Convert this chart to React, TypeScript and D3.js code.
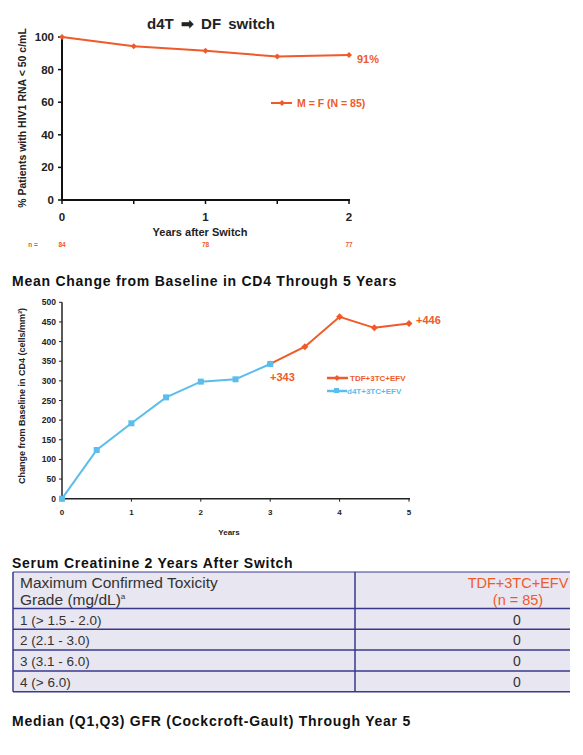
import React from "react";
import * as d3 from "d3";

// ---------- Data ----------
const vlYears = [0, 0.5, 1, 1.5, 2];
const vlPct = [100, 94.3, 91.6, 88, 89];
const vlTickYears = [0, 1, 2];
const vlNYears = [0, 1, 2];
const vlN = ["84", "78", "77"];
const vlYTicks = [0, 20, 40, 60, 80, 100];

const cd4BlueYears = [0, 0.5, 1, 1.5, 2, 2.5, 3];
const cd4BlueVals = [0, 124, 192, 258, 298, 304, 343];
const cd4OrangeYears = [3, 3.5, 4, 4.5, 5];
const cd4OrangeVals = [343, 387, 463, 435, 446];
const cd4YTicks = [0, 50, 100, 150, 200, 250, 300, 350, 400, 450, 500];
const cd4XTicks = [0, 1, 2, 3, 4, 5];

const tableHeaderLeft = ["Maximum Confirmed Toxicity", "Grade (mg/dL)"];
const tableHeaderRight = ["TDF+3TC+EFV", "(n = 85)"];
const gradeLabels = ["1 (> 1.5 - 2.0)", "2 (2.1 - 3.0)", "3 (3.1 - 6.0)", "4 (> 6.0)"];
const gradeValues = ["0", "0", "0", "0"];

const ORANGE = "#f05a28";
const BLUE = "#5bbdec";
const FONT = "'Liberation Sans', Arial, Helvetica, sans-serif";

function diamond(x: number, y: number, r: number) {
  return `M${x},${y - r}L${x + r},${y}L${x},${y + r}L${x - r},${y}Z`;
}

export default function App() {
  // Chart 1 scales
  const x1 = d3.scaleLinear().domain([0, 2]).range([62, 349]);
  const y1 = d3.scaleLinear().domain([0, 100]).range([200, 37]);
  const line1 = d3
    .line<number>()
    .x((_, i) => x1(vlYears[i]))
    .y((d) => y1(d));

  // Chart 2 scales
  const x2 = d3.scaleLinear().domain([0, 5]).range([62, 409]);
  const y2 = d3.scaleLinear().domain([0, 500]).range([498.7, 302.3]);
  const lineBlue = d3
    .line<number>()
    .x((_, i) => x2(cd4BlueYears[i]))
    .y((d) => y2(d));
  const lineOrange = d3
    .line<number>()
    .x((_, i) => x2(cd4OrangeYears[i]))
    .y((d) => y2(d));

  // Table geometry
  const tLeft = 13;
  const tRight = 570;
  const tDiv = 355;
  const tTop = 572;
  const headerBottom = 608.5;
  const rowH = 20.8;
  const rowYs = gradeLabels.map((_, i) => headerBottom + i * rowH);
  const tBottom = headerBottom + gradeLabels.length * rowH;
  const BORDER = "#3a3a8c";

  return (
    <svg width={583} height={755} style={{ position: "absolute", left: 0, top: 0 }} fontFamily={FONT}>
      <rect x={0} y={0} width={583} height={755} fill="#fff" />

      {/* ---------- Chart 1 ---------- */}
      <text x={211} y={29} textAnchor="middle" fontSize={15} fontWeight="bold" fill="#222" wordSpacing={3}>
        d4T ➡ DF switch
      </text>
      <text
        transform={`translate(26,${118}) rotate(-90)`}
        textAnchor="middle"
        fontSize={10.5}
        fontWeight="bold"
        fill="#222"
      >
        % Patients with HIV1 RNA &lt; 50 c/mL
      </text>
      <line x1={62} x2={62} y1={y1(100)} y2={y1(0)} stroke="#111" strokeWidth={2} />
      <line x1={61} x2={350} y1={y1(0)} y2={y1(0)} stroke="#111" strokeWidth={2} />
      {vlYTicks.map((t) => (
        <g key={t}>
          <line x1={58} x2={62} y1={y1(t)} y2={y1(t)} stroke="#111" strokeWidth={1.5} />
          <text x={54} y={y1(t) + 4} textAnchor="end" fontSize={11.5} fontWeight="bold" fill="#222">
            {t}
          </text>
        </g>
      ))}
      {vlYears.map((t) => (
        <line key={t} x1={x1(t)} x2={x1(t)} y1={y1(0)} y2={y1(0) + 4} stroke="#111" strokeWidth={1.5} />
      ))}
      {vlTickYears.map((t) => (
        <text key={t} x={x1(t)} y={221} textAnchor="middle" fontSize={11.5} fontWeight="bold" fill="#222">
          {t}
        </text>
      ))}
      <text x={200} y={236} textAnchor="middle" fontSize={11} fontWeight="bold" fill="#222">
        Years after Switch
      </text>
      <text x={33} y={247} textAnchor="middle" fontSize={6.5} fontWeight="bold" fill={ORANGE}>
        n =
      </text>
      {vlNYears.map((t, i) => (
        <text key={t} x={x1(t)} y={247} textAnchor="middle" fontSize={6.5} fontWeight="bold" fill={ORANGE}>
          {vlN[i]}
        </text>
      ))}
      <path d={line1(vlPct) || ""} fill="none" stroke={ORANGE} strokeWidth={2} />
      {vlPct.map((v, i) => (
        <path key={i} d={diamond(x1(vlYears[i]), y1(v), 3)} fill={ORANGE} />
      ))}
      <text x={357} y={63} fontSize={11} fontWeight="bold" fill={ORANGE}>
        91%
      </text>
      <line x1={271} x2={292} y1={103} y2={103} stroke={ORANGE} strokeWidth={2} />
      <path d={diamond(282, 103, 3)} fill={ORANGE} />
      <text x={297} y={107} fontSize={10.5} fontWeight="bold" fill={ORANGE}>
        M = F (N = 85)
      </text>

      {/* ---------- Chart 2 ---------- */}
      <text x={12} y={286} fontSize={14} fontWeight="bold" fill="#111" letterSpacing={0.75}>
        Mean Change from Baseline in CD4 Through 5 Years
      </text>
      <text
        transform={`translate(25,${396}) rotate(-90)`}
        textAnchor="middle"
        fontSize={9}
        fontWeight="bold"
        fill="#222"
      >
        Change from Baseline in CD4 (cells/mm³)
      </text>
      <line x1={62} x2={62} y1={y2(500)} y2={y2(0)} stroke="#222" strokeWidth={1.5} />
      <line x1={61} x2={410} y1={y2(0)} y2={y2(0)} stroke="#222" strokeWidth={1.5} />
      {cd4YTicks.map((t) => (
        <g key={t}>
          <line x1={59} x2={62} y1={y2(t)} y2={y2(t)} stroke="#222" strokeWidth={1} />
          <text x={56} y={y2(t) + 3} textAnchor="end" fontSize={8.5} fontWeight="bold" fill="#222">
            {t}
          </text>
        </g>
      ))}
      {cd4XTicks.map((t) => (
        <g key={t}>
          <line x1={x2(t)} x2={x2(t)} y1={y2(0)} y2={y2(0) + 3} stroke="#222" strokeWidth={1} />
          <text x={x2(t)} y={515} textAnchor="middle" fontSize={8} fontWeight="bold" fill="#222">
            {t}
          </text>
        </g>
      ))}
      <text x={229} y={535} textAnchor="middle" fontSize={8} fontWeight="bold" fill="#222">
        Years
      </text>
      <path d={lineOrange(cd4OrangeVals) || ""} fill="none" stroke={ORANGE} strokeWidth={2} />
      {cd4OrangeVals.map((v, i) => (
        <path key={i} d={diamond(x2(cd4OrangeYears[i]), y2(v), 3.5)} fill={ORANGE} />
      ))}
      <path d={lineBlue(cd4BlueVals) || ""} fill="none" stroke={BLUE} strokeWidth={2} />
      {cd4BlueVals.map((v, i) => (
        <rect
          key={i}
          x={x2(cd4BlueYears[i]) - 3}
          y={y2(v) - 3}
          width={6}
          height={6}
          fill={BLUE}
        />
      ))}
      <text x={270} y={381} fontSize={11} fontWeight="bold" fill={ORANGE}>
        +343
      </text>
      <text x={416} y={324} fontSize={11} fontWeight="bold" fill={ORANGE}>
        +446
      </text>
      <line x1={327} x2={348} y1={378} y2={378} stroke={ORANGE} strokeWidth={2.5} />
      <path d={diamond(337, 378, 3)} fill={ORANGE} />
      <text x={350} y={381} fontSize={8} fontWeight="bold" fill={ORANGE}>
        TDF+3TC+EFV
      </text>
      <line x1={327} x2={347} y1={391} y2={391} stroke={BLUE} strokeWidth={2.5} />
      <rect x={334} y={388} width={5} height={5} fill={BLUE} />
      <text x={347} y={394} fontSize={8} fontWeight="bold" fill={BLUE}>
        d4T+3TC+EFV
      </text>

      {/* ---------- Table ---------- */}
      <text x={12} y={568} fontSize={14} fontWeight="bold" fill="#111" letterSpacing={0.75}>
        Serum Creatinine 2 Years After Switch
      </text>
      <rect x={tLeft} y={tTop} width={tRight - tLeft} height={tBottom - tTop} fill="#e8e6f0" />
      <line x1={tLeft} x2={tRight} y1={tTop} y2={tTop} stroke={BORDER} strokeWidth={1} />
      <line x1={tLeft} x2={tRight} y1={headerBottom} y2={headerBottom} stroke={BORDER} strokeWidth={1.5} />
      {rowYs.map((ry, i) => (
        <line key={i} x1={tLeft} x2={tRight} y1={ry + rowH} y2={ry + rowH} stroke={BORDER} strokeWidth={1.5} />
      ))}
      <line x1={tLeft} x2={tLeft} y1={tTop} y2={tBottom} stroke={BORDER} strokeWidth={1.5} />
      <line x1={tDiv} x2={tDiv} y1={tTop} y2={tBottom} stroke={BORDER} strokeWidth={1.5} />
      <text x={20} y={588} fontSize={15.5} fill="#333">
        {tableHeaderLeft[0]}
      </text>
      <text x={20} y={605} fontSize={15.5} fill="#333">
        {tableHeaderLeft[1]}
        <tspan fontSize={8} dy={-6}>a</tspan>
      </text>
      <text x={518} y={588} textAnchor="middle" fontSize={14.5} fill={ORANGE}>
        {tableHeaderRight[0]}
      </text>
      <text x={518} y={605} textAnchor="middle" fontSize={14.5} fill={ORANGE}>
        {tableHeaderRight[1]}
      </text>
      {gradeLabels.map((g, i) => (
        <g key={g}>
          <text x={20} y={rowYs[i] + 16} fontSize={13.5} fill="#333">
            {g}
          </text>
          <text x={517} y={rowYs[i] + 16} textAnchor="middle" fontSize={14} fill="#333">
            {gradeValues[i]}
          </text>
        </g>
      ))}

      <text x={12} y={726} fontSize={14} fontWeight="bold" fill="#111" letterSpacing={0.75}>
        Median (Q1,Q3) GFR (Cockcroft-Gault) Through Year 5
      </text>
    </svg>
  );
}
